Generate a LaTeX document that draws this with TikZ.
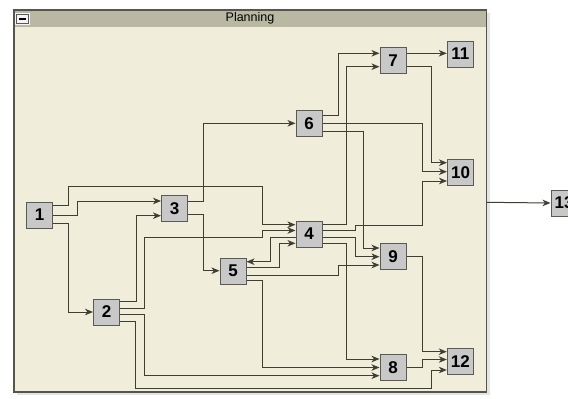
\documentclass[tikz,border=0pt]{standalone}
\usepackage{fontspec}
\setmainfont{Liberation Sans}
\usetikzlibrary{arrows.meta}
\definecolor{framefill}{RGB}{240,238,218}
\definecolor{titlefill}{RGB}{185,185,163}
\definecolor{frameline}{RGB}{85,85,78}
\definecolor{ndfill}{RGB}{200,200,200}
\definecolor{ndline}{RGB}{90,90,85}
\definecolor{edgecol}{RGB}{62,62,50}
\tikzset{
  nd/.style={draw=ndline, fill=ndfill, line width=1pt, minimum width=26pt, minimum height=26pt, inner sep=0pt, font=\bfseries\fontsize{17}{17}\selectfont},
  e/.style={draw=edgecol, line width=1pt, -{Stealth[length=8pt,width=6.5pt,inset=2.4pt]}},
}
\begin{document}
\begin{tikzpicture}[x=1pt,y=-1pt]
\useasboundingbox (0,0) rectangle (568,399);
% frame shadow
\fill[black!10] (17,13) rectangle (489.5,395);
\fill[framefill] (14,10) rectangle (486.7,392);
\fill[titlefill] (14,10) rectangle (486.7,27);
\draw[frameline, line width=1.2pt] (14,10) rectangle (486.7,392);
\node[font=\fontsize{12.5}{12.5}\selectfont, inner sep=0pt] (title) at (250,18.5) {Planning};
% minus icon
\fill[white!92!gray] (15,13) rectangle (30,24.7);
\draw[gray!70!black, line width=0.6pt] (16.5,14.5) rectangle (28.5,23.2);
\draw[black, line width=2pt] (19.3,18.7) -- (26.3,18.7);
% nodes
\node[nd] (n1) at (39.5,215) {1};
\node[nd] (n2) at (106.5,312) {2};
\node[nd] (n3) at (174.5,208.5) {3};
\node[nd] (n4) at (309,234) {4};
\node[nd] (n5) at (233,271) {5};
\node[nd] (n6) at (309,123.3) {6};
\node[nd] (n7) at (393,60.7) {7};
\node[nd] (n8) at (393,367.3) {8};
\node[nd] (n9) at (393,256.7) {9};
\node[nd] (n10) at (460.5,172.7) {10};
\node[nd] (n11) at (460.3,54) {11};
\node[nd] (n12) at (460.3,361.2) {12};
\node[nd] (n13) at (564,203) {13};
\coordinate (fr) at (486.7,202.3);
% edges
\draw[e] (n1.east |- 0,205.3) -- (68.3,205.3) -- (68.3,186.7) -- (262.5,186.7) -- (262.5,224.7) -- (n4.west |- 0,224.7);
\draw[e] (n1.east |- 0,215) -- (77.3,215) -- (77.3,201) -- (n3.west |- 0,201);
\draw[e] (n1.east |- 0,223.7) -- (68.3,223.7) -- (68.3,312) -- (n2.west);
\draw[e] (n2.east |- 0,301) -- (136,301) -- (136,215.7) -- (n3.west |- 0,215.7);
\draw[e] (n2.east |- 0,308.3) -- (144.3,308.3) -- (144.3,237.3) -- (262.5,237.3) -- (262.5,230.5) -- (n4.west |- 0,230.5);
\draw[e] (n2.east |- 0,314.3) -- (144.3,314.3) -- (144.3,375.7) -- (n8.west |- 0,375.7);
\draw[e] (n2.east |- 0,321.7) -- (135.7,321.7) -- (135.7,388.7) -- (431,388.7) -- (431,370) -- (n12.west |- 0,370);
\draw[e] (n3.east |- 0,201.7) -- (203.3,201.7) -- (203.3,123.3) -- (n6.west);
\draw[e] (n3.east |- 0,214.3) -- (203.3,214.3) -- (203.3,270.7) -- (n5.west |- 0,270.7);
\draw[e] (n4.east |- 0,224.3) -- (346.5,224.3) -- (346.5,66.7) -- (n7.west |- 0,66.7);
\draw[e] (n4.east |- 0,230.3) -- (355,230.3) -- (355,225) -- (422.7,225) -- (422.7,181) -- (n10.west |- 0,181);
\draw[e] (n4.east |- 0,237.3) -- (355,237.3) -- (355,256.7) -- (n9.west |- 0,256.7);
\draw[e] (n4.east |- 0,243.3) -- (346.5,243.3) -- (346.5,359) -- (n8.west |- 0,359);
\draw[e] (n4.west |- 0,237.3) -- (270.5,237.3) -- (270.5,261.7) -- (n5.east |- 0,261.7);
\draw[e] (n5.east |- 0,267.7) -- (279.3,267.7) -- (279.3,243.3) -- (n4.west |- 0,243.3);
\draw[e] (n5.east |- 0,275) -- (338.3,275) -- (338.3,265) -- (n9.west |- 0,265);
\draw[e] (n5.east |- 0,280.7) -- (262.3,280.7) -- (262.3,367.5) -- (n8.west |- 0,367.5);
\draw[e] (n6.east |- 0,115) -- (338.3,115) -- (338.3,53.3) -- (n7.west |- 0,53.3);
\draw[e] (n6.east) -- (422.7,123.3) -- (422.7,171.7) -- (n10.west |- 0,171.7);
\draw[e] (n6.east |- 0,131.7) -- (363.3,131.7) -- (363.3,248) -- (n9.west |- 0,248);
\draw[e] (n7.east |- 0,53.3) -- (n11.west |- 0,53.3);
\draw[e] (n7.east |- 0,66.7) -- (431,66.7) -- (431,162.7) -- (n10.west |- 0,162.7);
\draw[e] (n9.east) -- (422.7,256.7) -- (422.7,351.7) -- (n12.west |- 0,351.7);
\draw[e] (n8.east) -- (422.7,367.3) -- (422.7,359.5) -- (n12.west |- 0,359.5);
\draw[e] (fr) -- (n13.west);
\end{tikzpicture}
\end{document}
